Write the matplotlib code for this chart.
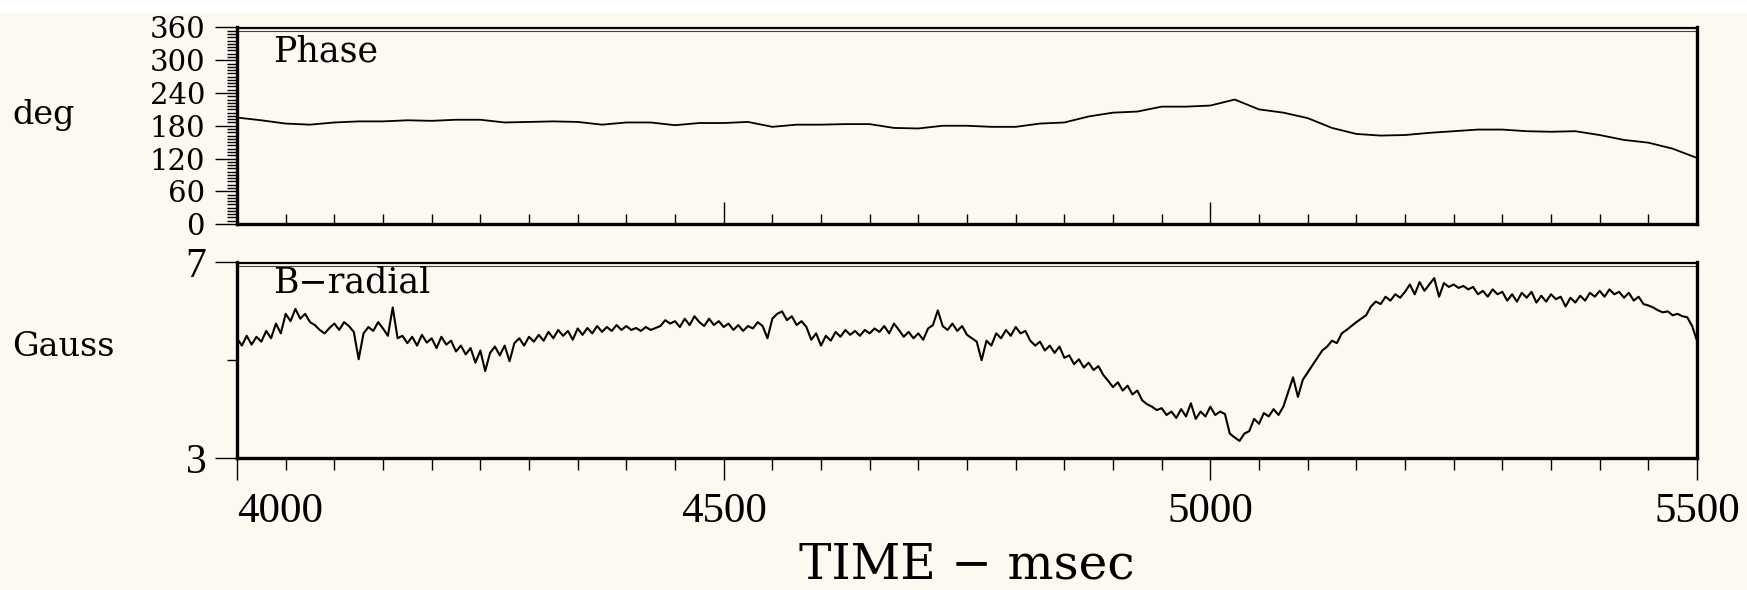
import numpy as np
import matplotlib.pyplot as plt
from matplotlib.ticker import MultipleLocator, FixedLocator
from matplotlib.transforms import offset_copy
from matplotlib.patches import Rectangle

# phase, one reading every 25 ms
phase_time = np.arange(4000, 5501, 25)
phase_deg = [195, 190, 184, 182, 186, 188, 188, 190, 189, 191,
             191, 186, 187, 188, 187, 182, 186, 186, 181, 185,
             185, 187, 178, 182, 182, 183, 183, 176, 175, 180,
             180, 178, 178, 184, 186, 197, 204, 206, 215, 215,
             217, 228, 210, 204, 194, 176, 165, 162, 163, 167,
             170, 173, 173, 170, 169, 170, 163, 154, 149, 138,
             121]

# B-radial, one reading every 5 ms
b_time = np.arange(4000, 5501, 5)
b_gauss = [
    5.45, 5.30, 5.50, 5.32, 5.48, 5.38, 5.60, 5.45, 5.75, 5.55, 5.95, 5.80, 6.05, 5.85, 5.95, 5.78, 5.72, 5.62, 5.55, 5.66,
    5.75, 5.62, 5.78, 5.70, 5.58, 5.02, 5.55, 5.68, 5.60, 5.78, 5.65, 5.50, 6.08, 5.45, 5.50, 5.35, 5.48, 5.30, 5.52, 5.36,
    5.45, 5.25, 5.48, 5.32, 5.40, 5.18, 5.30, 5.12, 5.25, 4.95, 5.20, 4.78, 5.15, 5.28, 5.10, 5.30, 4.98, 5.35, 5.45, 5.30,
    5.48, 5.38, 5.52, 5.40, 5.58, 5.45, 5.62, 5.50, 5.60, 5.42, 5.65, 5.52, 5.66, 5.55, 5.70, 5.58, 5.68, 5.60, 5.72, 5.62,
    5.70, 5.62, 5.66, 5.60, 5.68, 5.62, 5.66, 5.70, 5.82, 5.75, 5.80, 5.68, 5.85, 5.72, 5.90, 5.78, 5.70, 5.85, 5.72, 5.80,
    5.68, 5.75, 5.62, 5.72, 5.60, 5.70, 5.65, 5.78, 5.70, 5.45, 5.85, 5.95, 6.00, 5.82, 5.90, 5.72, 5.80, 5.68, 5.42, 5.55,
    5.30, 5.50, 5.40, 5.58, 5.48, 5.62, 5.52, 5.60, 5.50, 5.62, 5.55, 5.65, 5.58, 5.70, 5.55, 5.75, 5.62, 5.48, 5.58, 5.45,
    5.55, 5.42, 5.65, 5.72, 6.02, 5.70, 5.62, 5.75, 5.60, 5.70, 5.52, 5.45, 5.38, 5.00, 5.40, 5.30, 5.55, 5.45, 5.62, 5.50,
    5.68, 5.55, 5.60, 5.40, 5.30, 5.38, 5.20, 5.30, 5.15, 5.28, 5.05, 5.10, 4.92, 5.02, 4.85, 4.95, 4.80, 4.88, 4.70, 4.58,
    4.45, 4.55, 4.38, 4.48, 4.30, 4.38, 4.18, 4.10, 4.05, 3.98, 4.02, 3.88, 3.95, 3.82, 4.00, 3.85, 4.12, 3.80, 3.95, 3.85,
    4.05, 3.88, 3.95, 3.90, 3.50, 3.42, 3.35, 3.50, 3.55, 3.80, 3.70, 3.92, 3.85, 4.00, 3.88, 4.05, 4.35, 4.65, 4.25, 4.60,
    4.75, 4.90, 5.05, 5.20, 5.28, 5.40, 5.35, 5.55, 5.62, 5.70, 5.78, 5.85, 5.92, 6.10, 6.20, 6.15, 6.30, 6.22, 6.35, 6.28,
    6.40, 6.55, 6.35, 6.60, 6.42, 6.55, 6.68, 6.30, 6.58, 6.50, 6.55, 6.48, 6.52, 6.45, 6.50, 6.35, 6.42, 6.30, 6.45, 6.35,
    6.40, 6.22, 6.35, 6.20, 6.38, 6.28, 6.40, 6.18, 6.32, 6.20, 6.35, 6.25, 6.30, 6.10, 6.28, 6.18, 6.32, 6.22, 6.38, 6.30,
    6.42, 6.30, 6.45, 6.35, 6.40, 6.28, 6.38, 6.22, 6.30, 6.15, 6.12, 6.08, 6.02, 5.98, 6.00, 5.92, 5.95, 5.90, 5.88, 5.70,
    5.40]

x_ticks = [4000, 4500, 5000, 5500]
x_labels = ['4000', '4500', '5000', '5500']
phase_ticks = [0, 60, 120, 180, 240, 300, 360]
gauss_ticks = [3, 7]

bg = '#fdf8f0'
W, H = 1747, 590
fig = plt.figure(figsize=(W / 100, H / 100), dpi=100, facecolor=bg)
fig.patches.append(Rectangle((0, 1 - 13 / H), 1, 13 / H, transform=fig.transFigure,
                             facecolor='white', edgecolor='none'))


def box(l, t, r, b):
    return [l / W, 1 - b / H, (r - l) / W, (b - t) / H]


ax1 = fig.add_axes(box(237, 27.5, 1697, 224))
ax2 = fig.add_axes(box(237, 262.5, 1697, 458))

for ax in (ax1, ax2):
    ax.set_facecolor(bg)
    ax.set_xlim(4000, 5500)
    ax.set_xticks(x_ticks)
    ax.xaxis.set_minor_locator(MultipleLocator(50))
    for s in ('left', 'bottom', 'right'):
        ax.spines[s].set_linewidth(2.4)
    ax.spines['top'].set_linewidth(1.6)
    # thin second line under the top frame
    tr = offset_copy(ax.transAxes, fig=fig, x=0, y=-3, units='dots')
    ax.plot([0, 1], [1, 1], transform=tr, color='#444444', lw=0.8, clip_on=False)

# top panel
ax1.plot(phase_time, phase_deg, color='black', lw=1.3)
ax1.set_ylim(0, 360)
ax1.set_yticks(phase_ticks)
ax1.yaxis.set_minor_locator(MultipleLocator(6))
ax1.tick_params(axis='y', which='major', direction='out', length=16, width=1.0, pad=7,
                labelsize=21)
ax1.tick_params(axis='y', which='minor', direction='out', length=7, width=1.0)
ax1.tick_params(axis='x', which='major', direction='in', length=16, width=1.0, labelbottom=False)
ax1.tick_params(axis='x', which='minor', direction='in', length=7, width=1.0)
for lab in ax1.get_yticklabels():
    lab.set_fontfamily('DejaVu Serif')
ax1.text(0.025, 0.878, 'Phase', transform=ax1.transAxes, family='DejaVu Serif',
         fontsize=25, va='center', ha='left')

# bottom panel
ax2.plot(b_time, b_gauss, color='black', lw=1.5)
ax2.set_ylim(3, 7)
ax2.set_yticks(gauss_ticks)
ax2.yaxis.set_minor_locator(FixedLocator([5]))
ax2.set_xticklabels(x_labels)
ax2.tick_params(axis='y', which='major', direction='out', length=16, width=1.0, pad=6,
                labelsize=30)
ax2.tick_params(axis='y', which='minor', direction='out', length=7, width=1.0)
ax2.tick_params(axis='x', which='major', direction='out', length=16, width=1.0, pad=9,
                labelsize=31)
ax2.tick_params(axis='x', which='minor', direction='out', length=8.5, width=1.0)
for lab in ax2.get_yticklabels() + ax2.get_xticklabels():
    lab.set_fontfamily('Liberation Serif')
ax2.get_xticklabels()[0].set_ha('left')
ax2.text(0.025, 0.897, 'B\u2212radial', transform=ax2.transAxes, family='DejaVu Serif',
         fontsize=25, va='center', ha='left')

fig.text(12 / W, 1 - 115 / H, 'deg', family='DejaVu Serif', fontsize=24, va='center', ha='left')
fig.text(12 / W, 1 - 347 / H, 'Gauss', family='DejaVu Serif', fontsize=24, va='center', ha='left')
fig.text(967 / W, 0.002, 'TIME \u2212 msec', family='DejaVu Serif', fontsize=35,
         va='bottom', ha='center')

fig.savefig('out.png', dpi=100, facecolor=bg)
